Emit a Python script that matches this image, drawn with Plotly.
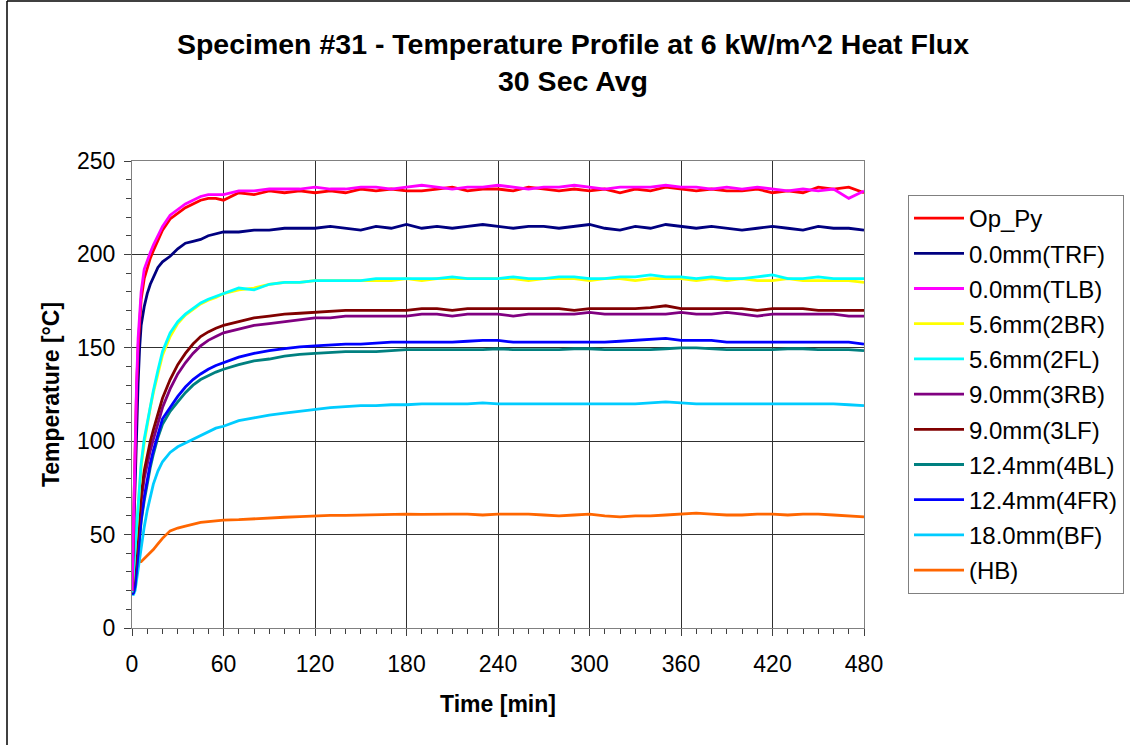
import plotly.graph_objects as go

# ---- data ----
time_min = [0, 1, 2, 3, 4, 5, 6, 8, 10, 12, 14, 17, 20, 25, 30, 35, 40, 45, 50, 55, 60,
            70, 80, 90, 100, 110, 120, 130, 140, 150, 160, 170, 180, 190, 200, 210, 220,
            230, 240, 250, 260, 270, 280, 290, 300, 310, 320, 330, 340, 350, 360, 370,
            380, 390, 400, 410, 420, 430, 440, 450, 460, 470, 480]

op_py = [20, 60, 95, 128, 150, 166, 176, 187, 193, 198, 202, 208, 213, 219, 222, 225, 227, 229, 230, 230, 229,
         233, 232, 234, 233, 234, 233, 234, 233, 235, 234,
         235, 234, 234, 235, 236, 234, 235, 235, 234, 236,
         235, 234, 235, 234, 235, 233, 235, 234, 236, 235,
         234, 235, 234, 234, 235, 233, 234, 233, 236, 235,
         236, 233]
trf_00 = [20, 50, 77, 108, 131, 150, 162, 172, 179, 184, 188, 193, 196, 199, 203, 206, 207, 208, 210, 211, 212,
          212, 213, 213, 214, 214, 214, 215, 214, 213, 215,
          214, 216, 214, 215, 214, 215, 216, 215, 214, 215,
          215, 214, 215, 216, 214, 213, 215, 214, 216, 215,
          214, 215, 214, 213, 214, 215, 214, 213, 215, 214,
          214, 213]
tlb_00 = [20, 62, 97, 131, 155, 170, 180, 192, 197, 201, 205, 210, 215, 221, 224, 227, 229, 231, 232, 232, 232,
          234, 234, 235, 235, 235, 236, 235, 235, 236, 236,
          235, 236, 237, 236, 235, 236, 236, 237, 236, 235,
          236, 236, 237, 236, 235, 236, 236, 236, 237, 236,
          236, 235, 236, 235, 236, 235, 234, 235, 234, 235,
          230, 234]
br2_56 = [20, 30, 40, 52, 64, 76, 86, 99, 109, 118, 126, 136, 146, 156, 163, 167.5, 170.5, 173.5, 175.5, 177, 179,
          181, 182, 184, 185, 185, 186, 186, 186, 186, 186,
          186, 187, 186, 187, 187, 187, 187, 187, 187, 186,
          187, 187, 187, 186, 187, 187, 186, 187, 187, 187,
          186, 187, 186, 187, 186, 186, 187, 186, 186, 186,
          186, 185]
fl2_56 = [19, 30, 41, 53, 66, 78, 88, 101, 110, 119, 127, 138, 148, 158, 164, 168, 171, 174, 176, 177.5, 179,
          182, 181, 184, 185, 185, 186, 186, 186, 186, 187,
          187, 187, 187, 187, 188, 187, 187, 187, 188, 187,
          187, 188, 188, 187, 187, 188, 188, 189, 188, 188,
          187, 188, 187, 187, 188, 189, 187, 187, 188, 187,
          187, 187]
rb3_90 = [19, 25, 33, 42, 52, 60, 68, 80, 88, 95, 101, 110, 118, 128, 136, 142, 147, 151, 154, 156, 158,
          160, 162, 163, 164, 165, 166, 166, 167, 167, 167,
          167, 167, 168, 168, 167, 168, 168, 168, 167, 168,
          168, 168, 168, 169, 168, 168, 168, 168, 168, 169,
          168, 168, 169, 168, 167, 168, 168, 168, 168, 168,
          167, 167]
lf3_90 = [19, 26, 35, 45, 55, 63, 71, 84, 93, 100, 106, 115, 123, 133, 141, 147, 152, 156, 158.5, 160.5, 162,
          164, 166, 167, 168, 168.5, 169, 169.5, 170, 170, 170,
          170, 170, 171, 171, 170, 171, 171, 171, 171, 171,
          171, 171, 170, 171, 171, 171, 171, 171.5, 172.5, 171,
          171, 171, 171, 171, 170, 171, 171, 171, 170, 170,
          170, 170]
bl4_124 = [18, 19, 22, 30, 40, 49, 57, 68, 78, 86, 93, 102, 109, 116, 121, 126, 130, 133, 135, 137, 138.5,
           141, 143, 144, 145.5, 146.5, 147, 147.5, 148, 148, 148,
           148.5, 149, 149, 149, 149, 149, 149, 149.5, 149, 149,
           149, 149, 149.5, 149.5, 149, 149, 149, 149, 149.5, 150,
           150, 149.5, 149, 149, 149, 149, 149.5, 149.5, 149, 149,
           149, 148.5]
fr4_124 = [18, 19, 23, 31, 41, 50, 58, 70, 80, 88, 95, 104, 112, 118, 124, 129, 133, 136, 138.5, 140.5, 142,
           145, 147, 148.5, 149.5, 150.5, 151, 151.5, 152, 152, 152.5,
           153, 153, 153, 153, 153, 153.5, 154, 154, 153, 153,
           153, 153, 153, 153, 153, 153.5, 154, 154.5, 155, 154,
           154, 154, 153, 153, 153, 153, 153, 153, 153, 153,
           153, 152]
bf_180 = [18, 18, 20, 26, 32, 38, 44, 54, 63, 70, 77, 84, 89, 94, 97, 99, 101, 103, 105, 107, 108,
          111, 112.5, 114, 115, 116, 117, 118, 118.5, 119, 119,
          119.5, 119.5, 120, 120, 120, 120, 120.5, 120, 120, 120,
          120, 120, 120, 120, 120, 120, 120, 120.5, 121, 120.5,
          120, 120, 120, 120, 120, 120, 120, 120, 120, 120,
          119.5, 119]
hb = [19, 37, 38, 37, 36, 35.5, 35.5, 37, 39, 40.5, 42, 45, 48, 52, 53.5, 54.5, 55.5, 56.5, 57, 57.5, 57.8,
      58, 58.5, 59, 59.3, 59.6, 60, 60.3, 60.3, 60.5, 60.5,
      60.5, 61, 60.8, 61, 61, 61, 60.5, 61, 61, 61,
      60.5, 60, 60.5, 61, 60, 59.5, 60, 60, 60.5, 61,
      61.5, 61, 60.5, 60.5, 61, 61, 60.5, 61, 61, 60.5,
      60, 59.5]

series_names = ["Op_Py", "0.0mm(TRF)", "0.0mm(TLB)", "5.6mm(2BR)", "5.6mm(2FL)", "9.0mm(3RB)",
                "9.0mm(3LF)", "12.4mm(4BL)", "12.4mm(4FR)", "18.0mm(BF)", "(HB)"]
series_values = [op_py, trf_00, tlb_00, br2_56, fl2_56, rb3_90, lf3_90, bl4_124, fr4_124, bf_180, hb]
series_colors = ["#FF0000", "#000080", "#FF00FF", "#FFFF00", "#00FFFF", "#800080",
                 "#800000", "#008080", "#0000FF", "#00CCFF", "#FF6600"]

x_ticks = [0, 60, 120, 180, 240, 300, 360, 420, 480]
y_ticks = [0, 50, 100, 150, 200, 250]

draw_order = [10, 9, 7, 8, 5, 6, 3, 4, 1, 0, 2]

FONT = "Arial, 'Liberation Sans', sans-serif"

fig = go.Figure()
for i in draw_order:
    fig.add_trace(go.Scatter(
        x=time_min, y=series_values[i], name=series_names[i], mode="lines",
        line=dict(color=series_colors[i], width=2.8),
        legendgroup=f"g{i:02d}", legendrank=i + 1,
    ))

W, H = 1130, 745
L, R, T, B = 132, 864, 161, 628
pw, ph = R - L, B - T

fig.update_layout(
    width=W, height=H,
    margin=dict(l=L, r=W - R, t=T, b=H - B, autoexpand=False),
    paper_bgcolor="white", plot_bgcolor="white",
    font=dict(family=FONT, color="black", size=23),
    title=dict(
        text="<b>Specimen #31 - Temperature Profile at 6 kW/m^2 Heat Flux<br>30 Sec Avg</b>",
        font=dict(family=FONT, size=28.5, color="black"),
        x=(573 - L) / pw, xref="paper", xanchor="center",
        y=1 - 54 / H, yref="container", yanchor="top",
    ),
    showlegend=True,
    legend=dict(
        x=(908 - L) / pw, y=(B - 195) / ph, xanchor="left", yanchor="top",
        bordercolor="#808080", borderwidth=1, bgcolor="white",
        font=dict(family=FONT, size=24, color="black"),
        tracegroupgap=1, traceorder="grouped", itemwidth=50,
    ),
    xaxis=dict(
        range=[0, 480], tickvals=x_ticks, ticks="outside", ticklen=7, tickcolor="#404040",
        showgrid=True, gridcolor="#303030", gridwidth=1,
        showline=True, linecolor="#808080", linewidth=1, mirror=True,
        minor=dict(dtick=10, ticks="outside", ticklen=5, tickcolor="#404040", showgrid=False),
        tickfont=dict(family=FONT, size=23), ticklabelstandoff=8,
        title=dict(text="<b>Time [min]</b>", font=dict(family=FONT, size=23), standoff=20),
        zeroline=False,
    ),
    yaxis=dict(
        range=[0, 250], tickvals=y_ticks, ticks="outside", ticklen=7, tickcolor="#404040",
        showgrid=True, gridcolor="#303030", gridwidth=1,
        showline=True, linecolor="#808080", linewidth=1, mirror=True,
        minor=dict(dtick=10, ticks="outside", ticklen=5, tickcolor="#404040", showgrid=False),
        tickfont=dict(family=FONT, size=23), ticklabelstandoff=4,
        title=dict(text="<b>Temperature [°C]</b>", font=dict(family=FONT, size=23), standoff=10),
        zeroline=False,
    ),
)

# outer chart-area border (left and top edges visible in the reference)
fig.add_shape(type="line", xref="paper", yref="paper",
              x0=(7 - L) / pw, x1=(7 - L) / pw, y0=(B - 1) / ph, y1=(B - 760) / ph,
              line=dict(color="black", width=1.5))
fig.add_shape(type="line", xref="paper", yref="paper",
              x0=(7 - L) / pw, x1=(1140 - L) / pw, y0=(B - 1) / ph, y1=(B - 1) / ph,
              line=dict(color="black", width=1.5))

fig.write_html("out.html", config={"displayModeBar": False},
               post_script="document.body.style.margin='0';document.body.style.overflow='hidden';")
